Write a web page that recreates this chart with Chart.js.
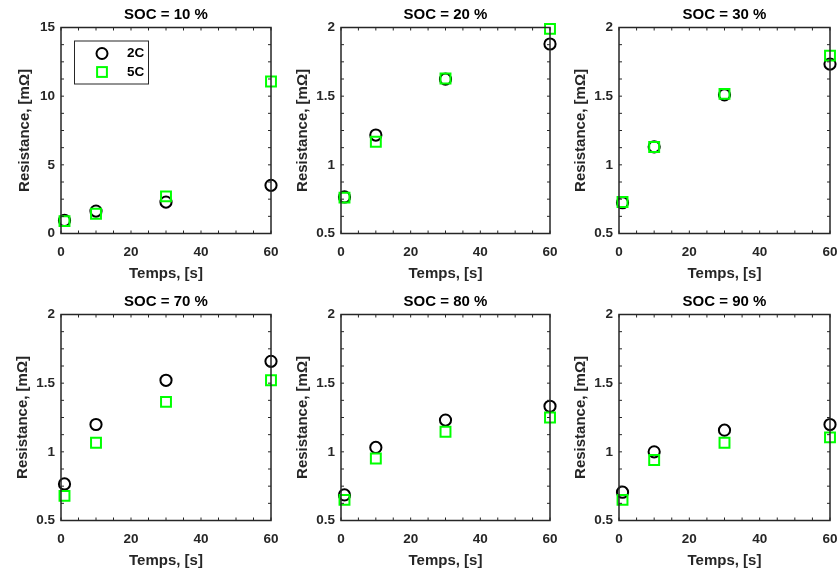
<!DOCTYPE html>
<html>
<head>
<meta charset="utf-8">
<script src="https://cdn.jsdelivr.net/npm/chart.js@4.4.0/dist/chart.umd.min.js"></script>
<style>
	body { margin: 0; background: #fff; }
	#wrap { position: relative; width: 839px; height: 574px; overflow: hidden; }
	#wrap canvas { position: absolute; }
</style>
</head>
<body>
<div id="wrap"></div>
<script>
// data
var temps = [1, 10, 30, 60];
var socs = [10, 20, 30, 70, 80, 90];

var res2C = [
	[0.95, 1.63, 2.29, 3.51],
	[0.766, 1.217, 1.624, 1.88],
	[0.724, 1.131, 1.51, 1.734],
	[0.766, 1.199, 1.521, 1.659],
	[0.686, 1.032, 1.231, 1.332],
	[0.706, 1.0, 1.158, 1.199]
];
var res5C = [
	[0.9, 1.44, 2.7, 11.07],
	[0.761, 1.168, 1.629, 1.99],
	[0.729, 1.13, 1.517, 1.795],
	[0.679, 1.066, 1.364, 1.521],
	[0.65, 0.952, 1.146, 1.25],
	[0.65, 0.94, 1.066, 1.105]
];

var xTicks = [0, 20, 40, 60];
var yTicksSoc10 = [0, 5, 10, 15];
var yTicksOther = [0.5, 1, 1.5, 2];
var seriesLabels = ['2C', '5C'];

var FONT = '"Liberation Sans", Arial, Helvetica, sans-serif';
var AXIS = '#262626';

// cell geometry
var cellLeft = [0, 280, 560];
var cellWidth = [280, 280, 279];
var cellTop = [0, 287];
var cellHeight = 287;
var plotLeft = [61, 61, 59];
var padRight = [8, 10, 9];

function majorOnly(step) {
	return function(v) {
		var k = v / step;
		return Math.abs(k - Math.round(k)) < 1e-6 ? String(+v.toFixed(3)) : '';
	};
}

var framePlugin = {
	id: 'frame',
	afterDatasetsDraw: function(chart) {
		var ctx = chart.ctx, a = chart.chartArea;
		var xs = chart.scales.x, ys = chart.scales.y;
		ctx.save();
		ctx.strokeStyle = AXIS;
		ctx.lineWidth = 1;
		ctx.beginPath();
		xs.ticks.forEach(function(t) {
			var px = xs.getPixelForValue(t.value);
			ctx.moveTo(px, a.bottom); ctx.lineTo(px, a.bottom - 3);
			ctx.moveTo(px, a.top); ctx.lineTo(px, a.top + 3);
		});
		ys.ticks.forEach(function(t) {
			var py = ys.getPixelForValue(t.value);
			ctx.moveTo(a.left, py); ctx.lineTo(a.left + 3, py);
			ctx.moveTo(a.right, py); ctx.lineTo(a.right - 3, py);
		});
		ctx.stroke();
		ctx.lineWidth = 1.5;
		ctx.strokeRect(a.left, a.top, a.right - a.left, a.bottom - a.top);
		ctx.restore();
	}
};

var legendPlugin = {
	id: 'boxLegend',
	afterDraw: function(chart) {
		var ctx = chart.ctx, a = chart.chartArea;
		var x = a.left + 13, y = a.top + 13, w = 74, h = 43;
		ctx.save();
		ctx.fillStyle = '#fff';
		ctx.fillRect(x, y, w, h);
		ctx.strokeStyle = AXIS;
		ctx.lineWidth = 1;
		ctx.strokeRect(x + 0.5, y + 0.5, w, h);
		// 2C
		ctx.lineWidth = 2;
		ctx.strokeStyle = '#000';
		ctx.beginPath();
		ctx.arc(x + 28, y + 13, 5.5, 0, Math.PI * 2);
		ctx.stroke();
		// 5C
		ctx.strokeStyle = '#00ff00';
		ctx.strokeRect(x + 28 - 4.9, y + 31.5 - 4.9, 9.8, 9.8);
		ctx.fillStyle = '#000';
		ctx.font = 'bold 13.5px ' + FONT;
		ctx.textBaseline = 'middle';
		ctx.fillText(seriesLabels[0], x + 53, y + 13);
		ctx.fillText(seriesLabels[1], x + 53, y + 31.5);
		ctx.restore();
	}
};

var wrap = document.getElementById('wrap');

socs.forEach(function(soc, i) {
	var col = i % 3, row = Math.floor(i / 3);
	var yt = i === 0 ? yTicksSoc10 : yTicksOther;
	var yMajor = yt[1] - yt[0];
	var canvas = document.createElement('canvas');
	canvas.width = cellWidth[col];
	canvas.height = cellHeight;
	canvas.style.left = cellLeft[col] + 'px';
	canvas.style.top = cellTop[row] + 'px';
	wrap.appendChild(canvas);

	var pts2 = temps.map(function(t, j) { return {x: t, y: res2C[i][j]}; });
	var pts5 = temps.map(function(t, j) { return {x: t, y: res5C[i][j]}; });
	var yTitlePad = i === 0 ? 16 : plotLeft[col] - 47;

	new Chart(canvas, {
		type: 'scatter',
		data: {
			datasets: [
				{
					label: seriesLabels[0],
					data: pts2,
					order: 1,
					clip: false,
					pointStyle: 'circle',
					pointRadius: 5.6,
					pointBorderWidth: 2,
					borderColor: '#000',
					backgroundColor: 'rgba(0,0,0,0)'
				},
				{
					label: seriesLabels[1],
					data: pts5,
					order: 0,
					clip: false,
					pointStyle: 'rect',
					pointRadius: 7,
					pointBorderWidth: 2,
					borderColor: '#00ff00',
					backgroundColor: 'rgba(0,0,0,0)'
				}
			]
		},
		options: {
			responsive: false,
			animation: false,
			events: [],
			layout: { padding: { left: 0, right: padRight[col], top: 0, bottom: 0 } },
			plugins: {
				legend: { display: false },
				tooltip: { enabled: false },
				title: {
					display: true,
					fullSize: false,
					text: 'SOC = ' + soc + ' %',
					color: '#000',
					font: { family: FONT, size: 15, weight: 'bold' },
					padding: { top: 6, bottom: 3.5 }
				}
			},
			scales: {
				x: {
					type: 'linear',
					min: xTicks[0],
					max: xTicks[xTicks.length - 1],
					grid: { display: false, drawTicks: false },
					border: { display: false },
					ticks: {
						stepSize: 5,
						autoSkip: false,
						maxRotation: 0,
						padding: 11,
						color: AXIS,
						font: { family: FONT, size: 13.5, weight: 'bold' },
						callback: majorOnly(xTicks[1] - xTicks[0])
					},
					title: {
						display: true,
						text: 'Temps, [s]',
						color: AXIS,
						font: { family: FONT, size: 15, weight: 'bold' },
						padding: { top: 0, bottom: 4 }
					},
					afterFit: function(s) { s.height = 53.5; s.paddingLeft = 0; s.paddingRight = 0; }
				},
				y: {
					type: 'linear',
					min: yt[0],
					max: yt[yt.length - 1],
					grid: { display: false, drawTicks: false },
					border: { display: false },
					ticks: {
						stepSize: yMajor / 4,
						autoSkip: false,
						padding: 6,
						color: AXIS,
						font: { family: FONT, size: 13.5, weight: 'bold' },
						callback: majorOnly(yMajor)
					},
					title: {
						display: true,
						text: 'Resistance, [m\u03A9]',
						color: AXIS,
						font: { family: FONT, size: 15, weight: 'bold' },
						padding: { top: yTitlePad, bottom: 0 }
					},
					afterFit: function(s) { s.width = plotLeft[col]; s.paddingTop = 0; s.paddingBottom = 0; }
				}
			}
		},
		plugins: i === 0 ? [framePlugin, legendPlugin] : [framePlugin]
	});
});
</script>
</body>
</html>
